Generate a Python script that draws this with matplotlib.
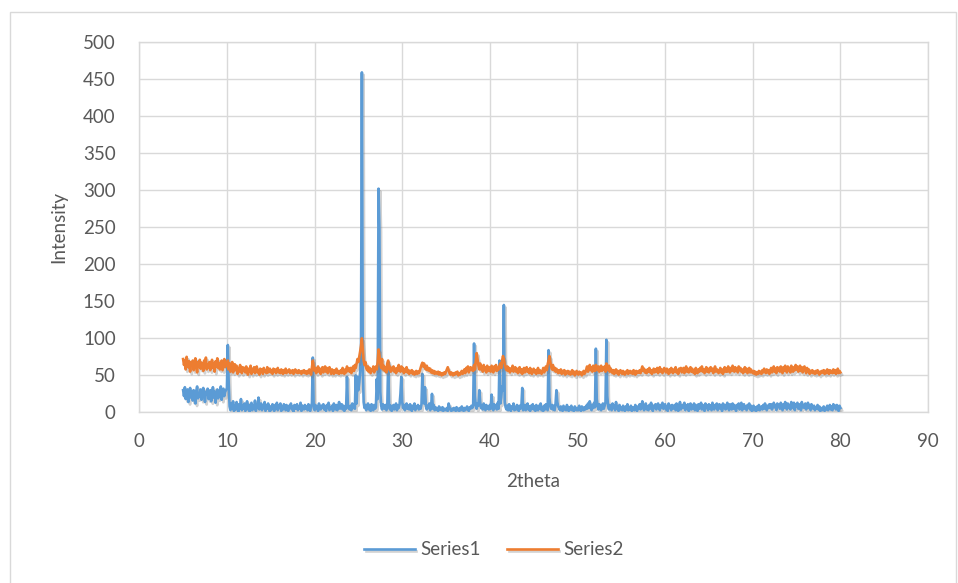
import numpy as np
import matplotlib
matplotlib.use("Agg")
import matplotlib.pyplot as plt
import matplotlib.patheffects as pe
from matplotlib.patches import Rectangle

# Data: intensities sampled every 0.1 degree from 5.0 to 80.0 (one row = one degree)
two_theta_start = 5.0
two_theta_step = 0.1

series1 = [
    30, 22, 34, 18, 27, 31, 14, 25, 33, 20,   # 5
    28, 16, 30, 24, 12, 29, 35, 19, 26, 22,   # 6
    31, 17, 27, 33, 21, 14, 28, 25, 32, 18,   # 7
    26, 30, 15, 23, 34, 20, 28, 13, 27, 31,   # 8
    19, 29, 24, 35, 17, 26, 32, 22, 28, 30,   # 9
    33, 91, 40, 8, 3, 12, 5, 15, 2, 9,        # 10
    4, 14, 7, 1, 11, 6, 18, 3, 9, 5,          # 11
    12, 2, 8, 15, 4, 10, 1, 7, 13, 3,         # 12
    9, 5, 16, 2, 11, 6, 20, 4, 8, 12,         # 13
    3, 10, 6, 14, 2, 9, 5, 12, 7, 1,          # 14
    8, 4, 11, 6, 2, 10, 5, 13, 3, 9,          # 15
    6, 12, 2, 8, 4, 11, 7, 3, 10, 5,          # 16
    2, 9, 6, 12, 4, 8, 1, 10, 5, 7,           # 17
    11, 3, 8, 5, 13, 2, 9, 6, 4, 10,          # 18
    5, 8, 3, 11, 6, 2, 9, 12, 74, 6,          # 19
    3, 10, 5, 8, 2, 12, 6, 4, 9, 7,           # 20
    11, 4, 8, 2, 10, 6, 13, 3, 7, 5,          # 21
    9, 2, 12, 6, 4, 10, 3, 8, 14, 5,          # 22
    7, 11, 4, 9, 2, 8, 5, 48, 10, 6,          # 23
    4, 9, 3, 12, 6, 8, 5, 50, 12, 48,         # 24
    30, 40, 55, 90, 459, 60, 14, 6, 10, 3,    # 25
    8, 12, 4, 9, 2, 11, 6, 3, 10, 5,          # 26
    7, 45, 18, 302, 246, 28, 9, 4, 11, 6,     # 27
    5, 10, 3, 8, 68, 12, 4, 9, 2, 7,          # 28
    10, 4, 8, 12, 3, 9, 6, 11, 25, 48,        # 29
    14, 6, 10, 3, 8, 12, 5, 9, 4, 11,         # 30
    7, 2, 9, 5, 12, 3, 8, 6, 10, 4,           # 31
    8, 5, 11, 52, 18, 12, 34, 10, 4, 9,       # 32
    6, 12, 3, 9, 25, 5, 10, 3, 7, 4,          # 33
    5, 2, 8, 4, 6, 3, 7, 2, 5, 4,             # 34
    3, 6, 2, 12, 7, 4, 2, 5, 3, 6,            # 35
    4, 2, 7, 3, 5, 2, 6, 3, 8, 4,             # 36
    2, 6, 3, 5, 8, 4, 2, 7, 5, 9,             # 37
    6, 10, 93, 22, 8, 5, 12, 9, 30, 14,       # 38
    6, 9, 4, 12, 7, 3, 10, 5, 8, 4,           # 39
    10, 5, 24, 8, 3, 11, 6, 9, 4, 13,         # 40
    5, 70, 12, 20, 35, 30, 145, 14, 7, 4,     # 41
    9, 3, 11, 6, 2, 8, 5, 12, 3, 7,           # 42
    4, 10, 6, 2, 9, 5, 8, 33, 3, 6,           # 43
    10, 3, 7, 12, 4, 8, 2, 9, 5, 11,          # 44
    4, 8, 2, 10, 6, 3, 9, 5, 12, 3,           # 45
    7, 2, 9, 4, 11, 6, 3, 84, 20, 8,          # 46
    5, 10, 4, 9, 3, 12, 30, 14, 8, 6,         # 47
    3, 8, 5, 2, 9, 4, 7, 3, 10, 5,            # 48
    2, 7, 4, 9, 3, 6, 2, 8, 5, 3,             # 49
    6, 3, 9, 4, 2, 8, 5, 3, 7, 4,             # 50
    9, 5, 12, 6, 15, 8, 3, 10, 6, 13,         # 51
    7, 86, 18, 9, 4, 11, 6, 3, 8, 12,         # 52
    5, 9, 14, 98, 22, 8, 4, 10, 6, 3,         # 53
    12, 6, 9, 3, 14, 5, 8, 2, 10, 4,          # 54
    7, 3, 9, 5, 2, 8, 4, 11, 3, 6,            # 55
    4, 9, 2, 7, 5, 3, 10, 6, 2, 8,            # 56
    5, 11, 4, 8, 15, 6, 3, 9, 12, 4,          # 57
    8, 3, 10, 5, 13, 7, 2, 9, 6, 11,          # 58
    4, 9, 12, 6, 3, 10, 7, 13, 5, 8,          # 59
    11, 4, 8, 2, 12, 6, 9, 3, 10, 7,          # 60
    5, 10, 3, 12, 7, 2, 9, 14, 4, 8,          # 61
    10, 6, 13, 3, 9, 5, 11, 2, 8, 12,         # 62
    4, 9, 6, 12, 3, 10, 7, 2, 11, 5,          # 63
    8, 13, 4, 10, 6, 2, 12, 7, 9, 3,          # 64
    11, 5, 9, 3, 13, 7, 4, 10, 6, 12,         # 65
    3, 8, 11, 5, 9, 2, 12, 6, 10, 4,          # 66
    9, 13, 6, 3, 11, 8, 4, 12, 5, 10,         # 67
    6, 2, 10, 7, 12, 4, 9, 13, 3, 8,          # 68
    11, 5, 8, 3, 10, 6, 12, 4, 9, 2,          # 69
    5, 9, 3, 7, 2, 8, 4, 10, 3, 6,            # 70
    8, 4, 10, 5, 12, 7, 3, 9, 6, 11,          # 71
    6, 11, 4, 9, 13, 7, 10, 3, 12, 8,         # 72
    10, 5, 13, 8, 3, 11, 6, 14, 9, 4,         # 73
    12, 7, 10, 4, 14, 9, 6, 13, 3, 11,        # 74
    8, 13, 5, 11, 9, 3, 14, 7, 10, 6,         # 75
    12, 4, 9, 13, 6, 10, 3, 11, 8, 5,         # 76
    9, 3, 7, 5, 10, 4, 8, 2, 6, 3,            # 77
    5, 8, 2, 6, 4, 9, 3, 7, 10, 4,            # 78
    8, 3, 11, 6, 9, 4, 10, 7, 2, 9,           # 79
    6,                                        # 80
]

series2 = [
    72, 64, 70, 58, 75, 66, 61, 69, 55, 67,   # 5
    63, 70, 57, 66, 73, 60, 54, 68, 62, 71,   # 6
    59, 67, 64, 56, 70, 62, 74, 58, 65, 61,   # 7
    68, 57, 63, 71, 60, 66, 55, 69, 62, 73,   # 8
    60, 67, 58, 64, 70, 57, 66, 72, 61, 65,   # 9
    63, 70, 58, 66, 55, 62, 68, 54, 60, 65,   # 10
    57, 63, 52, 60, 55, 64, 58, 53, 61, 56,   # 11
    60, 54, 62, 57, 51, 59, 55, 63, 52, 58,   # 12
    55, 61, 53, 58, 62, 54, 57, 51, 59, 56,   # 13
    58, 52, 60, 55, 57, 53, 61, 54, 56, 59,   # 14
    54, 57, 52, 59, 55, 58, 53, 56, 60, 54,   # 15
    57, 53, 58, 55, 52, 57, 54, 59, 53, 56,   # 16
    55, 58, 53, 56, 54, 57, 52, 55, 58, 54,   # 17
    56, 53, 57, 54, 55, 52, 56, 54, 57, 53,   # 18
    55, 52, 56, 53, 58, 54, 51, 60, 70, 62,   # 19
    56, 60, 53, 58, 62, 55, 59, 52, 57, 61,   # 20
    54, 58, 62, 55, 60, 53, 57, 61, 56, 52,   # 21
    58, 55, 52, 57, 54, 59, 53, 56, 52, 55,   # 22
    57, 53, 60, 55, 52, 58, 54, 62, 56, 59,   # 23
    55, 60, 53, 58, 62, 56, 64, 60, 66, 72,   # 24
    68, 75, 82, 90, 100, 85, 70, 64, 68, 60,  # 25
    57, 62, 55, 60, 53, 58, 56, 62, 54, 59,   # 26
    62, 58, 68, 85, 78, 66, 60, 72, 58, 63,   # 27
    56, 61, 54, 66, 70, 58, 62, 55, 60, 57,   # 28
    62, 55, 59, 53, 60, 56, 64, 58, 55, 62,   # 29
    56, 60, 53, 58, 55, 61, 54, 57, 52, 56,   # 30
    54, 57, 52, 55, 51, 54, 56, 52, 55, 53,   # 31
    56, 60, 64, 67, 62, 66, 60, 58, 63, 57,   # 32
    60, 56, 59, 54, 57, 53, 56, 52, 55, 53,   # 33
    52, 55, 51, 54, 52, 50, 53, 51, 54, 52,   # 34
    55, 58, 61, 57, 53, 51, 54, 52, 50, 53,   # 35
    51, 54, 52, 55, 50, 53, 51, 54, 56, 52,   # 36
    55, 58, 53, 60, 56, 62, 54, 58, 61, 57,   # 37
    60, 56, 64, 58, 70, 80, 72, 63, 58, 66,   # 38
    58, 62, 55, 64, 57, 61, 54, 63, 59, 56,   # 39
    61, 55, 63, 58, 54, 62, 57, 64, 56, 60,   # 40
    58, 63, 66, 60, 70, 76, 72, 65, 60, 57,   # 41
    62, 56, 60, 54, 59, 57, 63, 55, 58, 61,   # 42
    55, 59, 53, 57, 61, 54, 58, 52, 56, 60,   # 43
    54, 57, 61, 55, 58, 53, 60, 56, 52, 57,   # 44
    59, 54, 57, 52, 56, 60, 53, 57, 55, 52,   # 45
    56, 60, 54, 58, 62, 57, 65, 70, 76, 68,   # 46
    62, 58, 64, 57, 60, 55, 59, 56, 53, 57,   # 47
    54, 58, 52, 56, 53, 57, 51, 55, 53, 56,   # 48
    52, 55, 51, 54, 57, 52, 55, 50, 53, 56,   # 49
    53, 51, 55, 52, 54, 50, 53, 56, 52, 54,   # 50
    58, 62, 55, 60, 64, 57, 61, 55, 63, 59,   # 51
    56, 64, 60, 57, 62, 55, 60, 63, 56, 61,   # 52
    58, 62, 55, 66, 60, 57, 63, 55, 59, 56,   # 53
    53, 57, 52, 55, 58, 53, 56, 51, 54, 57,   # 54
    55, 52, 56, 54, 51, 55, 53, 57, 52, 54,   # 55
    56, 53, 55, 52, 57, 54, 51, 56, 53, 55,   # 56
    54, 57, 53, 58, 62, 56, 59, 54, 57, 53,   # 57
    58, 55, 60, 54, 57, 52, 56, 59, 54, 58,   # 58
    55, 60, 53, 57, 61, 55, 58, 53, 56, 60,   # 59
    57, 54, 59, 55, 52, 58, 54, 60, 56, 53,   # 60
    58, 55, 61, 54, 57, 52, 59, 56, 60, 54,   # 61
    56, 60, 53, 58, 62, 55, 59, 54, 57, 61,   # 62
    55, 59, 54, 57, 52, 60, 56, 53, 58, 55,   # 63
    60, 56, 62, 55, 58, 53, 57, 61, 55, 59,   # 64
    54, 58, 61, 56, 59, 53, 57, 62, 55, 58,   # 65
    57, 53, 56, 60, 54, 58, 52, 57, 61, 55,   # 66
    59, 55, 62, 57, 54, 60, 56, 63, 58, 55,   # 67
    61, 56, 59, 54, 62, 57, 60, 55, 58, 53,   # 68
    57, 61, 55, 59, 53, 56, 60, 54, 58, 55,   # 69
    53, 56, 52, 55, 51, 54, 52, 56, 53, 55,   # 70
    52, 57, 54, 59, 55, 53, 58, 54, 57, 52,   # 71
    56, 60, 54, 58, 62, 55, 59, 53, 61, 57,   # 72
    60, 55, 62, 57, 53, 61, 56, 63, 58, 54,   # 73
    62, 57, 60, 54, 63, 58, 55, 61, 57, 64,   # 74
    58, 62, 55, 60, 63, 56, 61, 54, 59, 62,   # 75
    57, 53, 60, 55, 58, 52, 56, 54, 57, 53,   # 76
    55, 52, 56, 53, 57, 54, 51, 55, 53, 56,   # 77
    54, 57, 52, 56, 53, 58, 55, 52, 57, 54,   # 78
    56, 53, 58, 54, 57, 52, 55, 59, 53, 56,   # 79
    54,                                       # 80
]

x_ticks = [0, 10, 20, 30, 40, 50, 60, 70, 80, 90]
y_ticks = [0, 50, 100, 150, 200, 250, 300, 350, 400, 450, 500]

two_theta = two_theta_start + two_theta_step * np.arange(len(series1))

plt.rcParams['font.family'] = ['Lato', 'DejaVu Sans']
text_color = '#595959'
grid_color = '#D9D9D9'

fig = plt.figure(figsize=(9.58, 5.83), dpi=100)
ax = fig.add_axes([139.3 / 958, 1 - 412.4 / 583, (928 - 139.3) / 958, (412.4 - 42) / 583])

shadow = [pe.SimpleLineShadow(offset=(1.2, -1.8), shadow_color='#7f7f7f', alpha=0.35), pe.Normal()]
ax.plot(two_theta, series1, color='#5B9BD5', lw=1.9, label='Series1',
        solid_joinstyle='round', path_effects=shadow, zorder=3)
ax.plot(two_theta, series2, color='#ED7D31', lw=1.9, label='Series2',
        solid_joinstyle='round', path_effects=shadow, zorder=4)

ax.set_xlim(0, 90)
ax.set_ylim(0, 500)
ax.set_xticks(x_ticks)
ax.set_yticks(y_ticks)
ax.grid(True, color=grid_color, lw=1.0)
ax.set_axisbelow(True)
for s in ax.spines.values():
    s.set_color(grid_color)
    s.set_linewidth(1.0)
ax.tick_params(length=0, labelsize=13.5, labelcolor=text_color)
ax.tick_params(axis='x', pad=15)
ax.tick_params(axis='y', pad=17)

fig.text(533.6 / 958, 1 - 481.6 / 583, '2theta', ha='center', va='center',
         fontsize=13.5, color=text_color)
fig.text(58.6 / 958, 1 - 227.3 / 583, 'Intensity', ha='center', va='center',
         rotation=90, fontsize=13.5, color=text_color)

fig.legend(loc='center', bbox_to_anchor=(494 / 958, 1 - 549.6 / 583), ncol=2,
           frameon=False, fontsize=13.5, labelcolor=text_color,
           handlelength=2.7, handletextpad=0.3, columnspacing=1.4)

# chart area border
fig.patches.append(Rectangle((10 / 958, -0.05), 946 / 958, 1 - 12 / 583 + 0.05,
                             transform=fig.transFigure, fill=False,
                             edgecolor=grid_color, lw=1.0))

fig.savefig('out.png', dpi=100)
